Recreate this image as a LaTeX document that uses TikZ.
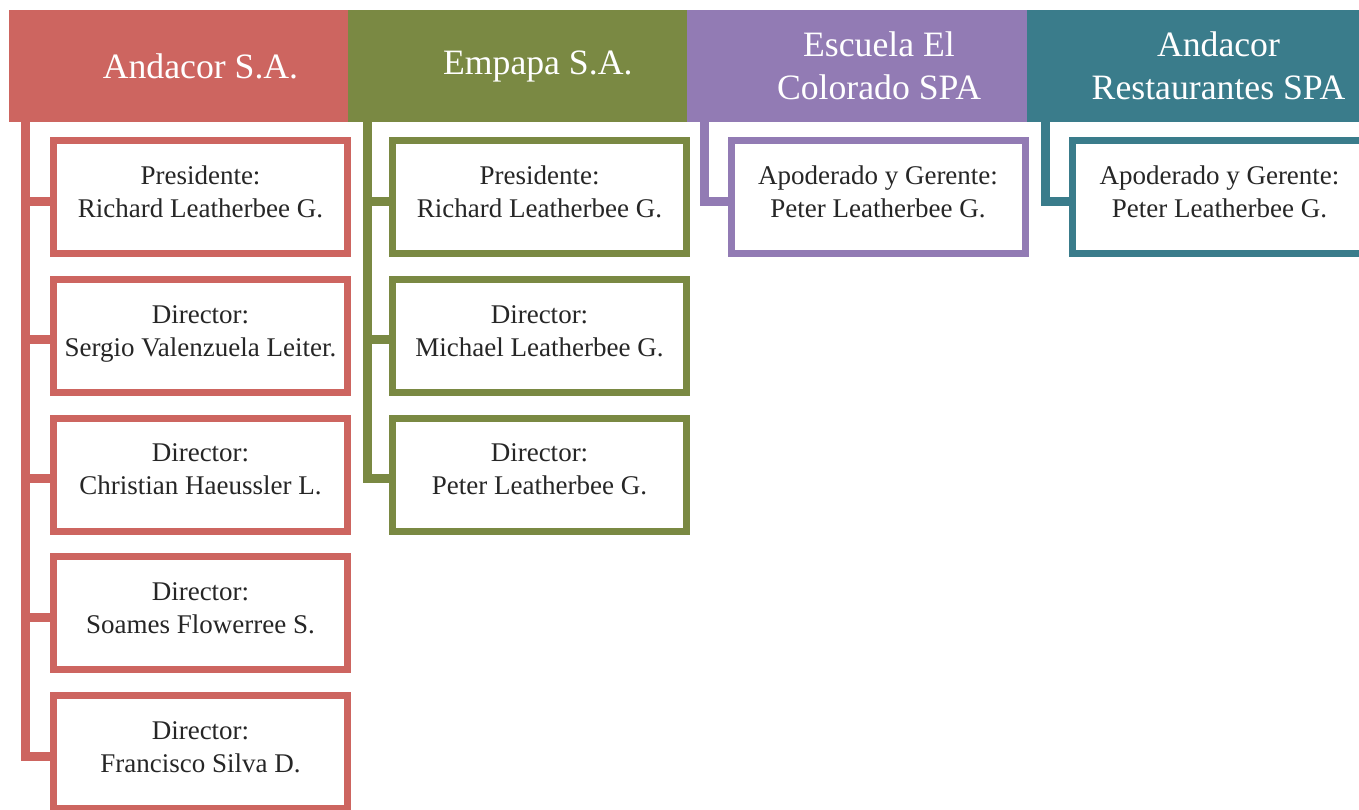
\documentclass[tikz,border=0pt]{standalone}
\usepackage{fontspec}
\setmainfont{Liberation Serif}
\usepackage{tikz}
\usepackage{xcolor}
\definecolor{andred}{HTML}{CD6560}
\definecolor{empgreen}{HTML}{7A8943}
\definecolor{escpurple}{HTML}{927BB4}
\definecolor{resteal}{HTML}{3A7C8B}
\tikzstyle{head} = [rectangle, minimum width=339.5pt, minimum height=112pt, inner sep=0, outer sep=0]

\begin{document}
\begin{tikzpicture}[x=1pt,y=-1pt]
			\tikzset{headtext/.style={text=white, align=center, font=\fontsize{35.7}{43}\selectfont},
			person/.style={rectangle, draw, line width=7pt, fill=white, minimum width=294pt, minimum height=113pt, inner sep=0, align=center, text=black!85, font=\fontsize{27}{33}\selectfont, execute at end node=\strut},
			link/.style={line width=9pt}}
\clip (0,0) rectangle (1359,809);

\node[head, fill=andred] (h1) at (178.5,66) {};
\node[head, fill=empgreen] (h2) at (517.75,66) {};
\node[head, fill=escpurple] (h3) at (857,66) {};
\node[head, fill=resteal] (h4) at (1196.5,66) {};

\node[headtext] (t1) at ([xshift=22pt]h1.center) {Andacor S.A.};
\node[headtext] (t2) at ([xshift=20pt]h2.center) {Empapa S.A.};
\node[headtext] (t3) at ([xshift=22pt]h3.center) {Escuela El\\Colorado SPA};
\node[headtext] (t4) at ([xshift=22pt]h4.center) {Andacor\\Restaurantes SPA};

\node[person, draw=andred] (r1) at (200.5,197) {Presidente:\\Richard Leatherbee G.};
\node[person, draw=andred] (r2) at (200.5,335.75) {Director:\\Sergio Valenzuela Leiter.};
\node[person, draw=andred] (r3) at (200.5,474.5) {Director:\\Christian Haeussler L.};
\node[person, draw=andred] (r4) at (200.5,613.25) {Director:\\Soames Flowerree S.};
\node[person, draw=andred] (r5) at (200.5,752) {Director:\\Francisco Silva D.};

\node[person, draw=empgreen] (g1) at (539.5,197) {Presidente:\\Richard Leatherbee G.};
\node[person, draw=empgreen] (g2) at (539.5,335.75) {Director:\\Michael Leatherbee G.};
\node[person, draw=empgreen] (g3) at (539.5,474.5) {Director:\\Peter Leatherbee G.};

\node[person, draw=escpurple] (p1) at (878,197) {Apoderado y Gerente:\\Peter Leatherbee G.};

\node[person, draw=resteal] (c1) at (1219.5,197) {Apoderado y Gerente:\\Peter Leatherbee G.};

\coordinate (a1) at ([xshift=17pt]h1.south west);
\coordinate (a2) at ([xshift=19pt]h2.south west);
\coordinate (a3) at ([xshift=17.5pt]h3.south west);
\coordinate (a4) at ([xshift=18.5pt]h4.south west);

\foreach \from/\to/\col in {a1/r1/andred,a1/r2/andred,a1/r3/andred,a1/r4/andred,a1/r5/andred,a2/g1/empgreen,a2/g2/empgreen,a2/g3/empgreen,a3/p1/escpurple,a4/c1/resteal}
{
	\draw[link, \col] (\from) |- ([yshift=-4pt]\to.west);
}

		\end{tikzpicture}
\end{document}
